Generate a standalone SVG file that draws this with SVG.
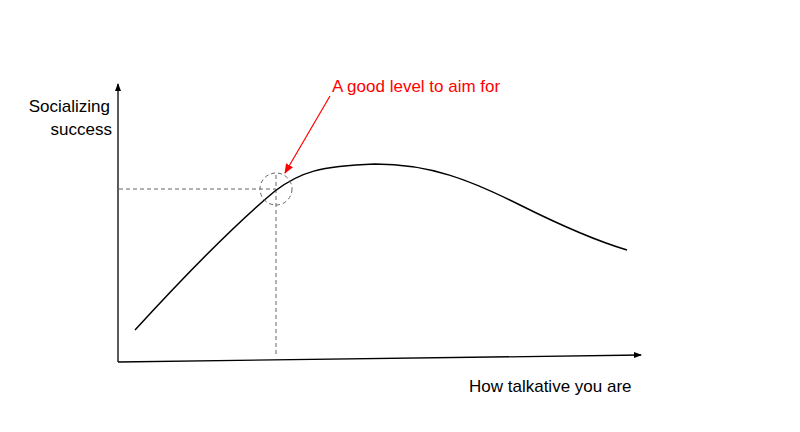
<svg xmlns="http://www.w3.org/2000/svg" width="800" height="432" viewBox="0 0 800 432">
<style>
text{font-family:"Liberation Sans",Arial,sans-serif;font-size:17px}
.dash{stroke:#666;stroke-width:1;stroke-dasharray:4,3;fill:none}
</style>
<defs>
<marker id="ab" markerWidth="8" markerHeight="8" refX="7" refY="4" orient="auto" markerUnits="userSpaceOnUse"><path d="M0,1 L8,4 L0,7Z" fill="#000"/></marker>
<marker id="ar" markerWidth="10" markerHeight="10" refX="9" refY="5" orient="auto" markerUnits="userSpaceOnUse"><path d="M0,1 L10,5 L0,9Z" fill="#f00"/></marker>
</defs>
<rect width="800" height="432" fill="#fff"/>
<g id="connectors">
<line x1="118" y1="362" x2="118" y2="84" stroke="#000" stroke-width="1.3" marker-end="url(#ab)"/>
<line x1="118" y1="362" x2="641" y2="355" stroke="#000" stroke-width="1.3" marker-end="url(#ab)"/>
<line class="dash" x1="119" y1="189" x2="276" y2="189"/>
<line class="dash" x1="276" y1="175" x2="276" y2="357"/>
<line x1="330" y1="96" x2="285" y2="173" stroke="#f00" stroke-width="1.2" marker-end="url(#ar)"/>
</g>
<g id="curve"><path d="M135,330 C190,270 240,220 275,191 C300,172 320,166 375,164 C430,164 470,180 520,205 C570,230 600,242 627,250" fill="none" stroke="#000" stroke-width="1.5"/></g>
<g id="circle"><circle class="dash" cx="276" cy="189" r="16"/></g>
<g id="labels">
<text x="110" y="112" text-anchor="end">Socializing</text>
<text x="112" y="135" text-anchor="end">success</text>
<text x="332" y="92" fill="#f00">A good level to aim for</text>
<text x="469" y="392">How talkative you are</text>
</g>
</svg>
